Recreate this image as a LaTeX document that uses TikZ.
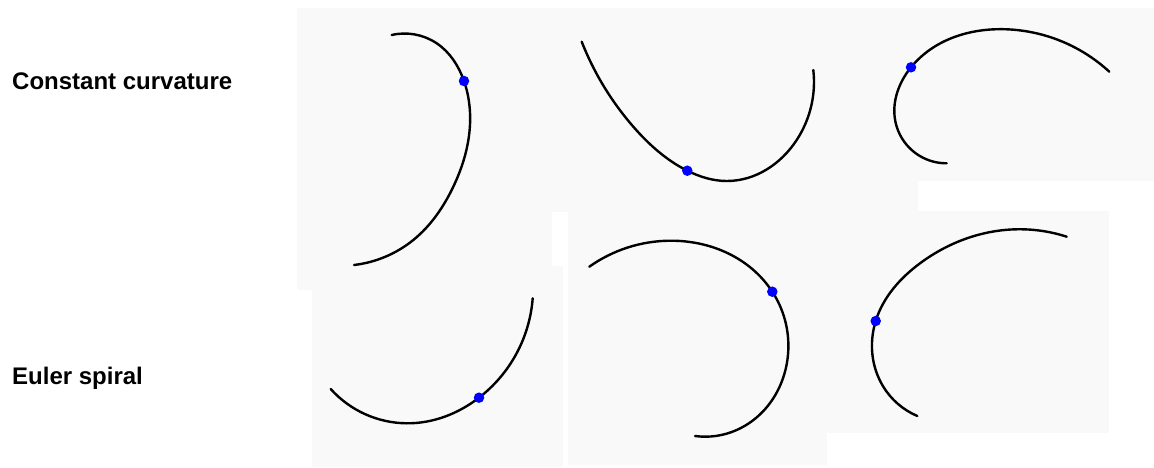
\documentclass[tikz,border=0pt]{standalone}
\usepackage{fontspec}
\setmainfont{Liberation Sans}
\usetikzlibrary{hobby}
\begin{document}
\begin{tikzpicture}[x=1pt,y=-1pt,
  curve/.style={line width=2.4pt,line cap=round,black,use Hobby shortcut},
  dotmark/.style={circle,fill={rgb,255:red,0;green,0;blue,255},inner sep=0pt,minimum size=10.5pt},
  rowlabel/.style={anchor=west,inner sep=0pt,font=\fontsize{24}{28}\selectfont\bfseries}]
\definecolor{panelbg}{RGB}{249,249,249}
\useasboundingbox (0,0) rectangle (1154,468);
% panels
\fill[panelbg] (297,8) rectangle (1154,181);
\fill[panelbg] (297,8) rectangle (918,212);
\fill[panelbg] (297,8) rectangle (552,290);
\fill[panelbg] (312,212) rectangle (552,467);
\fill[panelbg] (552,266) rectangle (563,467);
\fill[panelbg] (568,181) rectangle (1109,433);
\fill[panelbg] (568,181) rectangle (827,465);
\fill[white] (918,181) rectangle (1154,211);
% labels
\node[rowlabel] (lab1) at (12,81) {Constant curvature};
\node[rowlabel] (lab2) at (12,378) {Euler spiral};
% curves
\draw[curve] (391.7,35) .. (436.7,43.3) .. (464,81) .. (469.3,133.3) .. (453.3,186.7) .. (413.3,240) .. (354,265);
\draw[curve] (581.7,41.7) .. (633.3,126.7) .. (687.3,170.7) .. (726.7,181) .. (796.7,140) .. (813.3,70);
\draw[curve] (946.7,163.3) .. (896.7,126.7) .. (911,67.3) .. (1006.7,29.3) .. (1109.3,71.7);
\draw[curve] (330.7,389) .. (406.7,423.3) .. (479,397.7) .. (532.7,298.3);
\draw[curve] (589.3,266.7) .. (670,240.7) .. (772.3,291.7) .. (788.3,350) .. (736.7,430) .. (695,436);
\draw[curve] (1066.7,236.7) .. (1016.7,229.3) .. (920,263.3) .. (875.7,321) .. (883.3,386.7) .. (917.3,416);
% dots
\node[dotmark] (d1) at (464,81) {};
\node[dotmark] (d2) at (687.3,170.7) {};
\node[dotmark] (d3) at (911,67.3) {};
\node[dotmark] (d4) at (479,397.7) {};
\node[dotmark] (d5) at (772.3,291.7) {};
\node[dotmark] (d6) at (875.7,321) {};
\end{tikzpicture}
\end{document}
